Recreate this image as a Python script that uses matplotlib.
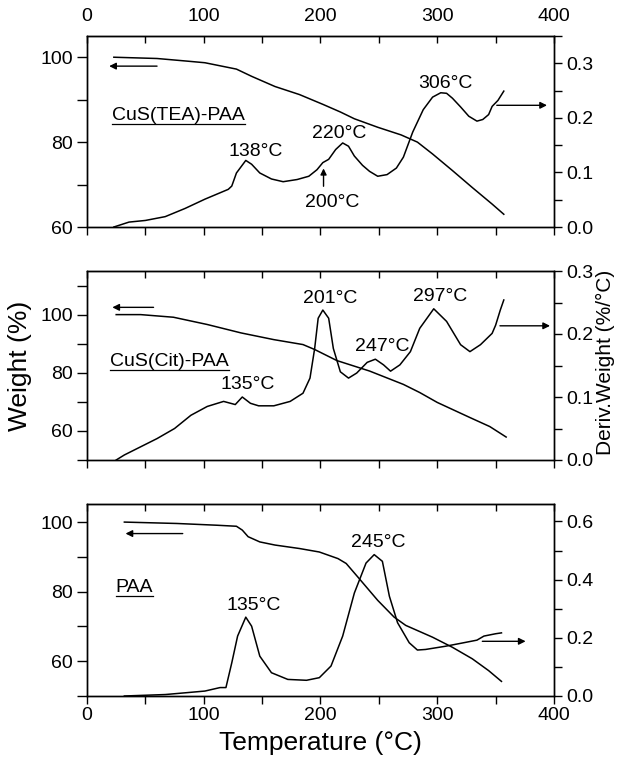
import matplotlib
matplotlib.use('Agg')
import matplotlib.pyplot as plt
from matplotlib.ticker import MultipleLocator, FormatStrFormatter
from matplotlib.lines import Line2D

plt.rcParams['font.family'] = ['Liberation Sans', 'DejaVu Sans']

# ---------------- data ----------------
# CuS(TEA)-PAA
tea_t_w = [23, 60, 87, 101, 128, 141, 161, 182, 202, 217, 229, 249, 269, 283, 296, 313, 330, 347, 357]
tea_w = [100, 99.7, 99.05, 98.7, 97.2, 95.5, 93.1, 91.2, 88.9, 87.1, 85.5, 83.5, 81.7, 80, 77.2, 73.3, 69.3, 65.4, 63]
tea_t_d = [23, 36, 50, 67, 84, 101, 121, 124, 128, 136, 141, 148, 158, 168, 180, 190, 197, 202, 207, 213,
           219, 224, 229, 236, 242, 249, 257, 265, 271, 279, 288, 296, 303, 308, 313, 320, 327, 334, 339,
           344, 347, 352, 357]
tea_d = [0.0, 0.009, 0.012, 0.019, 0.034, 0.051, 0.069, 0.075, 0.099, 0.122, 0.115, 0.099, 0.088, 0.083,
         0.087, 0.093, 0.105, 0.118, 0.124, 0.142, 0.154, 0.148, 0.130, 0.113, 0.102, 0.093, 0.096, 0.108,
         0.128, 0.174, 0.215, 0.238, 0.246, 0.245, 0.236, 0.220, 0.203, 0.194, 0.197, 0.206, 0.221, 0.232,
         0.249]

# CuS(Cit)-PAA
cit_t_w = [25, 46, 74, 103, 132, 160, 185, 195, 214, 242, 271, 285, 300, 328, 345, 359]
cit_w = [100, 100, 99.1, 96.6, 93.7, 91.4, 89.7, 88, 84.2, 80.6, 76, 73.2, 69.8, 64.6, 61.5, 57.9]
cit_t_d = [25, 32, 46, 60, 75, 89, 103, 117, 127, 133, 140, 147, 160, 174, 185, 191, 195, 198, 202, 207,
           211, 217, 224, 231, 240, 247, 254, 260, 268, 277, 285, 297, 308, 320, 328, 337, 347, 350, 354, 357]
cit_d = [0.0, 0.008, 0.021, 0.034, 0.050, 0.071, 0.085, 0.093, 0.088, 0.100, 0.090, 0.086, 0.086, 0.093,
         0.106, 0.130, 0.177, 0.225, 0.238, 0.225, 0.177, 0.140, 0.130, 0.138, 0.155, 0.160, 0.151, 0.141,
         0.151, 0.172, 0.209, 0.240, 0.220, 0.183, 0.172, 0.183, 0.201, 0.214, 0.238, 0.254]

# PAA
paa_t_w = [32, 77, 111, 128, 133, 138, 148, 161, 182, 199, 215, 222, 232, 249, 263, 273, 296, 313, 330, 344, 355]
paa_w = [100, 99.6, 99.1, 98.8, 97.7, 95.8, 94.3, 93.4, 92.4, 91.4, 89.5, 88.1, 84.2, 77.5, 72.7, 70.3,
         66.9, 64, 60.7, 57.3, 54.2]
paa_t_d = [32, 67, 87, 101, 114, 119, 124, 129, 136, 141, 148, 158, 172, 188, 199, 209, 219, 229, 239, 246,
           253, 259, 266, 276, 283, 290, 307, 320, 334, 340, 350, 355]
paa_d = [0.0, 0.005, 0.012, 0.017, 0.029, 0.029, 0.114, 0.206, 0.271, 0.240, 0.137, 0.080, 0.057, 0.054,
         0.063, 0.103, 0.206, 0.354, 0.457, 0.486, 0.463, 0.343, 0.252, 0.183, 0.158, 0.160, 0.171, 0.181,
         0.192, 0.206, 0.214, 0.217]

fig = plt.figure(figsize=(6.18, 7.6), dpi=100)
W, H = 618.0, 760.0
L, R = 87 / W, 554 / W


def panel(top_px, bot_px, wlim, dlim, dmajor, dminor, top_labels, bottom_labels):
    ax = fig.add_axes([L, 1 - bot_px / H, R - L, (bot_px - top_px) / H])
    ax2 = ax.twinx()
    ax.set_xlim(0, 400)
    ax.set_ylim(*wlim)
    ax2.set_ylim(*dlim)
    ax.xaxis.set_major_locator(MultipleLocator(100))
    ax.xaxis.set_minor_locator(MultipleLocator(50))
    ax.yaxis.set_major_locator(MultipleLocator(20))
    ax.yaxis.set_minor_locator(MultipleLocator(10))
    ax2.yaxis.set_major_locator(MultipleLocator(dmajor))
    ax2.yaxis.set_minor_locator(MultipleLocator(dminor))
    ax2.yaxis.set_major_formatter(FormatStrFormatter('%.1f'))
    ax.tick_params(axis='x', which='both', direction='out', length=6, width=1, top=False,
                   labelbottom=bottom_labels, labelsize=14, pad=2)
    ax.tick_params(axis='y', which='both', direction='out', length=7, width=1, labelsize=14, pad=3)
    ax2.tick_params(axis='y', which='both', direction='out', length=6, width=1, labelsize=14, pad=3)
    sec = ax.secondary_xaxis('top')
    sec.xaxis.set_major_locator(MultipleLocator(100))
    sec.xaxis.set_minor_locator(MultipleLocator(50))
    sec.tick_params(axis='x', which='both', direction='in', length=5, width=1,
                    labeltop=top_labels, labelsize=14, pad=8)
    for a in (ax, ax2):
        for s in a.spines.values():
            s.set_linewidth(1.0)
    return ax, ax2


def arrow(a, x0, x1, y):
    a.annotate('', xy=(x1, y), xytext=(x0, y),
               arrowprops=dict(arrowstyle='-|>', color='k', lw=1, mutation_scale=10,
                               shrinkA=0, shrinkB=0))


underlined = []

# ---- top panel ----
ax, ax2 = panel(36, 227, (60, 105), (0, 0.35), 0.1, 0.05, True, False)
ax.plot(tea_t_w, tea_w, color='k', lw=1.1)
ax2.plot(tea_t_d, tea_d, color='k', lw=1.1)
arrow(ax, 60, 19, 97.9)
arrow(ax2, 351, 394, 0.223)
ax.annotate('', xy=(202.6, 73.8), xytext=(202.6, 69.6),
            arrowprops=dict(arrowstyle='-|>', color='k', lw=1, mutation_scale=9, shrinkA=0, shrinkB=0))
underlined.append(ax.text(21.5, 86.3, 'CuS(TEA)-PAA', fontsize=14, ha='left', va='center'))
ax.text(144.5, 77.9, '138°C', fontsize=14, ha='center', va='center')
ax.text(216, 82, '220°C', fontsize=14, ha='center', va='center')
ax.text(210, 65.8, '200°C', fontsize=14, ha='center', va='center')
ax.text(307, 93.8, '306°C', fontsize=14, ha='center', va='center')

# ---- middle panel ----
ax, ax2 = panel(271, 460, (50, 115), (0, 0.3), 0.1, 0.05, False, False)
ax.plot(cit_t_w, cit_w, color='k', lw=1.1)
ax2.plot(cit_t_d, cit_d, color='k', lw=1.1)
arrow(ax, 57, 21.7, 102.5)
arrow(ax2, 353.7, 396.6, 0.213)
underlined.append(ax.text(19.7, 84, 'CuS(Cit)-PAA', fontsize=14, ha='left', va='center'))
ax.text(137.3, 76, '135°C', fontsize=14, ha='center', va='center')
ax.text(208, 105.7, '201°C', fontsize=14, ha='center', va='center')
ax.text(253.3, 89.1, '247°C', fontsize=14, ha='center', va='center')
ax.text(302.4, 106.3, '297°C', fontsize=14, ha='center', va='center')

# ---- bottom panel ----
ax, ax2 = panel(504, 696, (50, 105.2), (0, 0.66), 0.2, 0.1, False, True)
ax.plot(paa_t_w, paa_w, color='k', lw=1.1)
ax2.plot(paa_t_d, paa_d, color='k', lw=1.1)
arrow(ax, 82, 33, 96.7)
arrow(ax2, 338.6, 375.7, 0.188)
underlined.append(ax.text(24.6, 81.3, 'PAA', fontsize=14, ha='left', va='center'))
ax.text(142.8, 76.1, '135°C', fontsize=14, ha='center', va='center')
ax.text(249.8, 94, '245°C', fontsize=14, ha='center', va='center')

fig.text(20 / W, 1 - 366 / H, 'Weight (%)', rotation=90, fontsize=19, ha='center', va='center')
fig.text(605 / W, 1 - 362 / H, 'Deriv.Weight (%/°C)', rotation=90, fontsize=15, ha='center', va='center')
fig.text(320 / W, 1 - 743 / H, 'Temperature (°C)', fontsize=19, ha='center', va='center')

# underline the sample names
fig.canvas.draw()
inv = fig.transFigure.inverted()
for t in underlined:
    bb = t.get_window_extent()
    (x0, y0), (x1, _) = inv.transform([(bb.x0, bb.y0), (bb.x1, bb.y0)])
    fig.add_artist(Line2D([x0, x1], [y0, y0], color='k', lw=0.9))

fig.savefig('out.png', dpi=100)
